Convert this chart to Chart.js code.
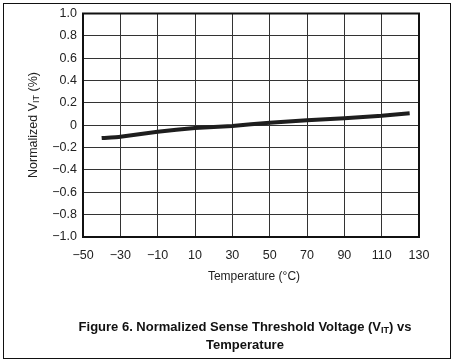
<!DOCTYPE html>
<html>
<head>
<meta charset="utf-8">
<script src="https://cdn.jsdelivr.net/npm/chart.js@4.4.0/dist/chart.umd.min.js"></script>
<style>
  body { margin: 0; background: #fff; }
  #frame { position: absolute; left: 3px; top: 3px; width: 446px; height: 354px; border: 1px solid #111; }
  #wrap { position: absolute; left: 0; top: 0; width: 452px; height: 361px; }
  #caption { position: absolute; left: 0; top: 318px; width: 490px; text-align: center;
    font: bold 13px "Liberation Sans", Arial, sans-serif; line-height: 18px; color: #111; }
  #caption sub { font-size: 9px; vertical-align: -2px; line-height: 0; }
</style>
</head>
<body>
<div id="frame"></div>
<div id="wrap"><canvas id="chart" width="452" height="361"></canvas></div>
<div id="caption">Figure 6. Normalized Sense Threshold Voltage (V<sub>IT</sub>) vs<br>Temperature</div>
<script>
const temps = [-40, -30, -10, 10, 30, 50, 70, 90, 110, 125];
const vit = [-0.115, -0.102, -0.058, -0.025, -0.006, 0.022, 0.044, 0.063, 0.084, 0.108];
const yTickLabels = ['−1.0', '−0.8', '−0.6', '−0.4', '−0.2', '0', '0.2', '0.4', '0.6', '0.8', '1.0'];
const xTitle = 'Temperature (°C)';

const font = '"Liberation Sans", Arial, sans-serif';

// axis titles drawn by hand (the y one has a subscript)
const titlePlugin = {
  id: 'titles',
  afterDraw(chart) {
    const c = chart.ctx, a = chart.chartArea;
    c.save();
    c.fillStyle = '#222';
    c.textBaseline = 'middle';
    c.textAlign = 'center';
    c.font = '12px ' + font;
    c.fillText(xTitle, (a.left + a.right) / 2 + 3, 277);

    c.translate(34, 125);
    c.rotate(-Math.PI / 2);
    c.textAlign = 'left';
    const p1 = 'Normalized V', p2 = 'IT', p3 = ' (%)';
    c.font = '12.5px ' + font;
    const w1 = c.measureText(p1).width, w3 = c.measureText(p3).width;
    c.font = '9px ' + font;
    const w2 = c.measureText(p2).width;
    let x = -(w1 + w2 + w3) / 2;
    c.font = '12.5px ' + font;
    c.fillText(p1, x, 0); x += w1;
    c.font = '9px ' + font;
    c.fillText(p2, x, 3); x += w2;
    c.font = '12.5px ' + font;
    c.fillText(p3, x, 0);
    c.restore();
  }
};

new Chart(document.getElementById('chart'), {
  type: 'scatter',
  data: {
    datasets: [{
      data: temps.map((t, i) => ({ x: t, y: vit[i] })),
      showLine: true,
      borderColor: '#1e1e1e',
      borderWidth: 4,
      pointRadius: 0,
      tension: 0.1
    }]
  },
  options: {
    responsive: false,
    animation: false,
    layout: { padding: { top: 10, right: 33, bottom: 0, left: 0 } },
    plugins: { legend: { display: false }, tooltip: { enabled: false } },
    scales: {
      x: {
        type: 'linear', min: -50, max: 130,
        afterFit(s) { s.height = 124; },
        ticks: {
          stepSize: 20, padding: 11, color: '#222',
          font: { family: font, size: 12.5 },
          callback: v => String(v).replace('-', '−')
        },
        grid: { color: '#333', lineWidth: 1, drawTicks: false },
        border: { color: '#111', width: 2 }
      },
      y: {
        min: -1, max: 1,
        afterFit(s) { s.width = 83; },
        ticks: {
          stepSize: 0.2, padding: 6, color: '#222',
          font: { family: font, size: 12.5 },
          callback: (v, i) => yTickLabels[i]
        },
        grid: { color: '#333', lineWidth: 1, drawTicks: false },
        border: { color: '#111', width: 2 }
      }
    }
  },
  plugins: [titlePlugin, {
    id: 'box',
    afterDraw(chart) {
      const a = chart.chartArea, c = chart.ctx;
      c.save();
      c.strokeStyle = '#111';
      c.lineWidth = 2;
      c.strokeRect(a.left, a.top, a.right - a.left, a.bottom - a.top);
      c.restore();
    }
  }]
});
</script>
</body>
</html>
